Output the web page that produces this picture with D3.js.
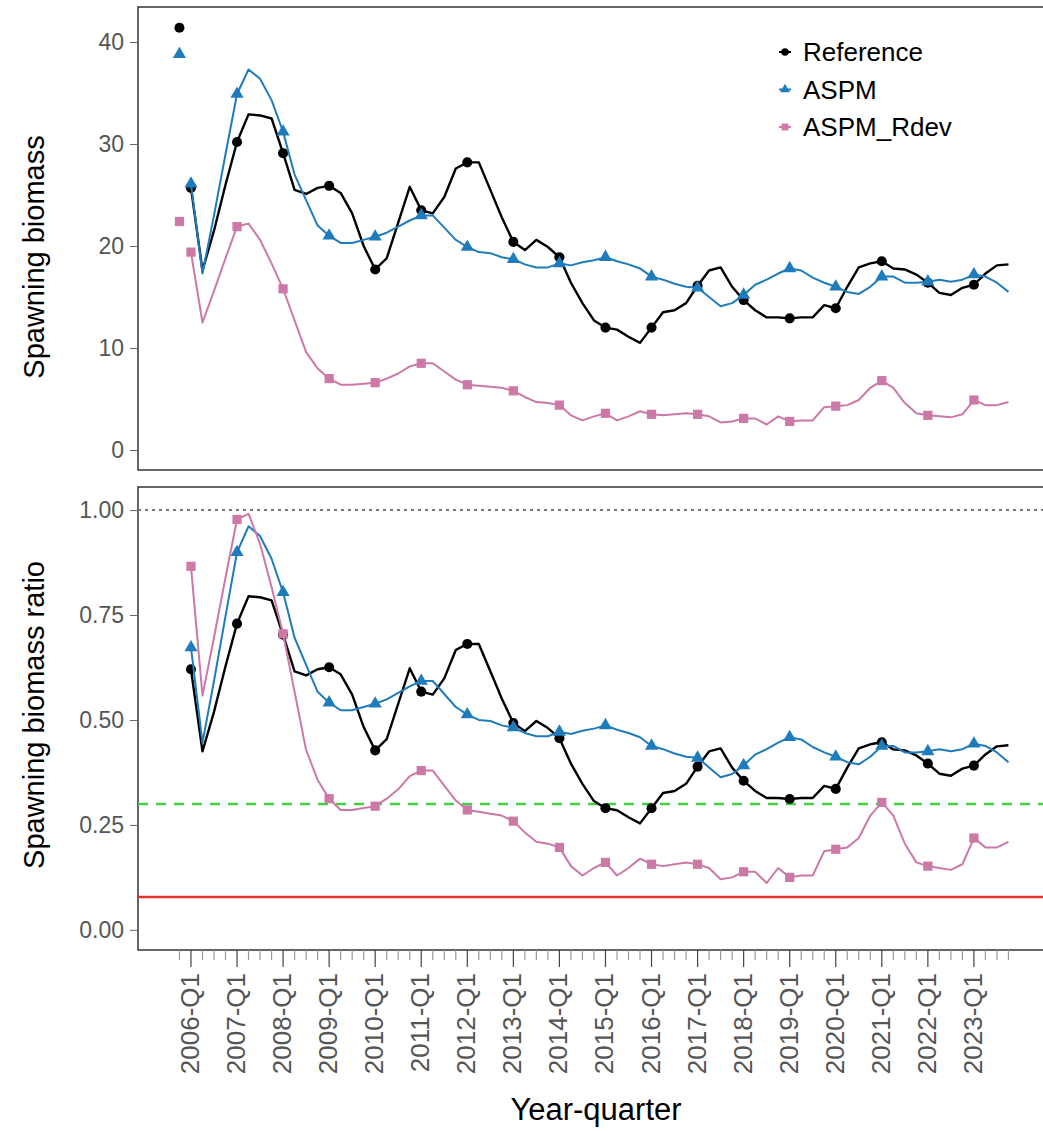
<!DOCTYPE html>
<html lang="en">
<head>
<meta charset="UTF-8">
<title>Spawning biomass</title>
<script src="https://d3js.org/d3.v7.min.js"></script>
<style>
  body { margin: 0; background: #fff; }
  text { font-family: "Liberation Sans", Arial, sans-serif; }
</style>
</head>
<body>
<div id="chart"></div>
<script>
// quarterly series, 2006-Q1 .. 2023-Q4 (72 quarters)
const q1Labels = ["2006-Q1","2007-Q1","2008-Q1","2009-Q1","2010-Q1","2011-Q1","2012-Q1","2013-Q1","2014-Q1",
  "2015-Q1","2016-Q1","2017-Q1","2018-Q1","2019-Q1","2020-Q1","2021-Q1","2022-Q1","2023-Q1"];
const nQuarters = 72;

const seriesNames = ["Reference", "ASPM", "ASPM_Rdev"];

// unfished (initial) spawning biomass, drawn one quarter before 2006-Q1
const sb0 = [41.4, 38.8, 22.4];

const refSB = [25.7,17.6,21.5,26.0, 30.2,32.9,32.8,32.5, 29.1,25.5,25.1,25.7, 25.9,25.2,23.2,20.0,
  17.7,18.8,22.3,25.8, 23.5,23.2,24.8,27.6, 28.2,28.2,25.5,22.8, 20.4,19.6,20.6,19.9,
  18.9,16.4,14.4,12.7, 12.0,11.8,11.1,10.5, 12.0,13.5,13.7,14.4, 16.1,17.6,17.9,16.0,
  14.7,13.7,13.0,13.0, 12.9,13.0,13.0,14.2, 13.9,16.0,17.9,18.3, 18.5,17.8,17.7,17.2,
  16.4,15.4,15.2,15.9, 16.2,17.3,18.1,18.2];

const aspmSB = [26.1,17.3,23.0,29.0, 34.9,37.3,36.4,34.3, 31.2,27.0,24.5,22.0, 21.0,20.3,20.3,20.6,
  20.9,21.3,21.9,22.5, 23.0,23.0,21.8,20.6, 19.9,19.4,19.3,18.9, 18.7,18.2,17.9,17.9,
  18.3,18.1,18.4,18.6, 18.9,18.5,18.2,17.8, 17.0,16.7,16.3,16.0, 15.9,15.0,14.1,14.4,
  15.2,16.2,16.7,17.3, 17.8,17.6,16.9,16.4, 16.0,15.5,15.3,16.0, 17.0,17.0,16.4,16.4,
  16.5,16.7,16.5,16.7, 17.2,17.0,16.4,15.5];

const rdevSB = [19.4,12.5,15.6,18.8, 21.9,22.2,20.6,18.3, 15.8,12.7,9.6,8.0, 7.0,6.4,6.4,6.5,
  6.6,7.0,7.5,8.2, 8.5,8.5,7.7,6.9, 6.4,6.3,6.2,6.1, 5.8,5.2,4.7,4.6,
  4.4,3.4,2.9,3.3, 3.6,2.9,3.3,3.8, 3.5,3.4,3.5,3.6, 3.5,3.3,2.7,2.8,
  3.1,3.1,2.5,3.3, 2.8,2.9,2.9,4.2, 4.3,4.4,4.9,6.1, 6.8,6.1,4.6,3.6,
  3.4,3.3,3.2,3.5, 4.9,4.4,4.4,4.7];

const colors = ["#000000", "#1f7cbc", "#cc79a7"];
const lineWidths = [2.4, 2, 2];
const symbols = [d3.symbolCircle, d3.symbolTriangle, d3.symbolSquare];
const symSizes = [80, 75, 85];

// reference points on the ratio panel
const sbTarget = 0.3;   // dashed green
const sbLimit = 0.078;  // solid red

const allSB = [refSB, aspmSB, rdevSB];

const width = 1043, height = 1131;
const svg = d3.select("#chart").append("svg")
  .attr("width", width).attr("height", height);

const left = 138, right = 1046;
const panels = [
  {top: 7, bottom: 470, domain: [-1.96, 43.43], ticks: [0,10,20,30,40], fmt: d3.format("d"),
    title: "Spawning biomass", titleY: 257},
  {top: 487, bottom: 950, domain: [-0.048, 1.055], ticks: [0,0.25,0.5,0.75,1], fmt: d3.format(".2f"),
    title: "Spawning biomass ratio", titleY: 715}
];

const x = d3.scaleLinear().domain([-4.6, 74]).range([left, 1043]);

panels.forEach((p, pi) => {
  const y = d3.scaleLinear().domain(p.domain).range([p.bottom, p.top]);
  const g = svg.append("g");

  // frame
  g.append("rect")
    .attr("x", left).attr("y", p.top)
    .attr("width", right - left).attr("height", p.bottom - p.top)
    .attr("fill", "none").attr("stroke", "#333").attr("stroke-width", 1.5);

  // y axis
  const yAxis = g.append("g")
    .attr("transform", `translate(${left},0)`)
    .call(d3.axisLeft(y).tickValues(p.ticks).tickFormat(p.fmt).tickSize(8).tickPadding(6));
  yAxis.select(".domain").remove();
  yAxis.selectAll(".tick line").attr("stroke", "#666");
  yAxis.selectAll(".tick text").attr("fill", "#555").style("font-size", "23px");

  g.append("text")
    .attr("transform", `translate(44,${p.titleY}) rotate(-90)`)
    .attr("text-anchor", "middle")
    .style("font-size", "29px")
    .text(p.title);

  // series values for this panel (ratio = SB / unfished SB)
  const values = allSB.map((s, si) => pi === 0 ? s : s.map(v => v / sb0[si]));

  if (pi === 1) {
    g.append("line")
      .attr("x1", left).attr("x2", right).attr("y1", y(1)).attr("y2", y(1))
      .attr("stroke", "#777").attr("stroke-width", 2).attr("stroke-dasharray", "3,4");
    g.append("line")
      .attr("x1", left).attr("x2", right).attr("y1", y(sbTarget)).attr("y2", y(sbTarget))
      .attr("stroke", "#44d044").attr("stroke-width", 2.5).attr("stroke-dasharray", "10,8");
    g.append("line")
      .attr("x1", left).attr("x2", right).attr("y1", y(sbLimit)).attr("y2", y(sbLimit))
      .attr("stroke", "#e5302f").attr("stroke-width", 2.5);
  }

  const line = d3.line().x((d, i) => x(i)).y(d => y(d));

  values.forEach((vals, si) => {
    g.append("path")
      .datum(vals)
      .attr("d", line)
      .attr("fill", "none")
      .attr("stroke", colors[si])
      .attr("stroke-width", lineWidths[si])
      .attr("stroke-linejoin", "round");

    // markers at each Q1, plus the unfished point on the biomass panel
    const pts = pi === 0 ? [{i: -1, v: sb0[si]}] : [];
    for (let i = 0; i < nQuarters; i += 4) pts.push({i: i, v: vals[i]});
    g.selectAll(null)
      .data(pts)
      .join("path")
      .attr("transform", d => `translate(${x(d.i)},${y(d.v)})`)
      .attr("d", d3.symbol().type(symbols[si]).size(symSizes[si]))
      .attr("fill", colors[si]);
  });

  // x axis only on lower panel
  if (pi === 1) {
    const xa = g.append("g").attr("transform", `translate(0,${p.bottom})`);
    const qIdx = d3.range(-1, nQuarters);
    xa.selectAll("line")
      .data(qIdx)
      .join("line")
      .attr("x1", d => x(d)).attr("x2", d => x(d))
      .attr("y1", 0).attr("y2", d => (d >= 0 && d % 4 === 0) ? 17 : 10)
      .attr("stroke", d => (d >= 0 && d % 4 === 0) ? "#444" : "#999")
      .attr("stroke-width", 1.2);
    xa.selectAll("text")
      .data(q1Labels)
      .join("text")
      .attr("transform", (d, k) => `translate(${x(k * 4) + 8},${23}) rotate(-90)`)
      .attr("text-anchor", "end")
      .attr("fill", "#555")
      .style("font-size", "26px")
      .text(d => d);
  }
});

svg.append("text")
  .attr("x", 596).attr("y", 1120)
  .attr("text-anchor", "middle")
  .style("font-size", "31px")
  .text("Year-quarter");

// legend
const legend = svg.append("g").attr("transform", "translate(785,52)");
seriesNames.forEach((name, si) => {
  const row = legend.append("g").attr("transform", `translate(0,${si * 37.5})`);
  row.append("line").attr("x1", -6).attr("x2", 6).attr("stroke", colors[si]).attr("stroke-width", 2);
  row.append("path")
    .attr("d", d3.symbol().type(symbols[si]).size(symSizes[si] * 0.55))
    .attr("fill", colors[si]);
  row.append("text")
    .attr("x", 18).attr("y", 9)
    .style("font-size", "26px")
    .text(name);
});
</script>
</body>
</html>
